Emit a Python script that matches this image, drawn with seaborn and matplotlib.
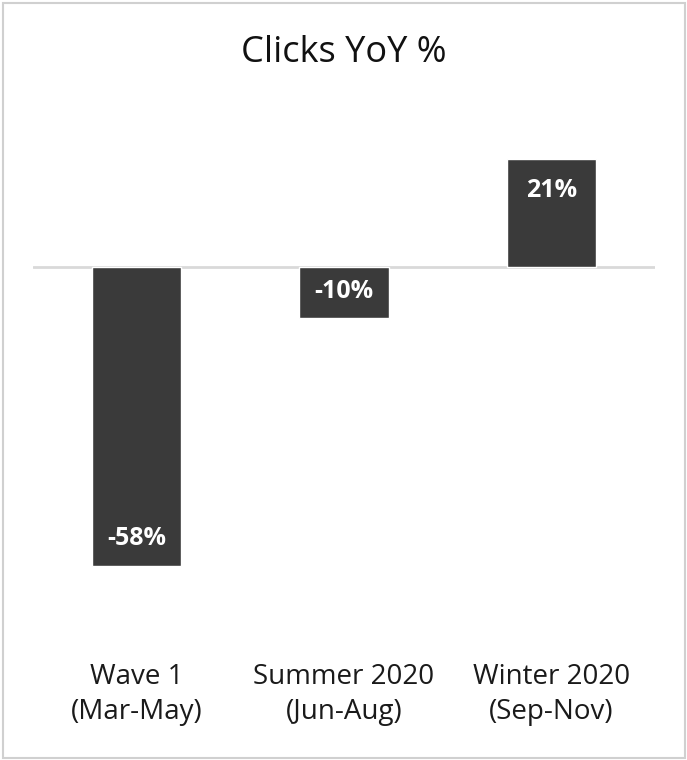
import matplotlib
matplotlib.use("Agg")
import matplotlib.pyplot as plt
from matplotlib.patches import Rectangle
import seaborn as sns
import pandas as pd

categories = ["Wave 1\n(Mar-May)", "Summer 2020\n(Jun-Aug)", "Winter 2020\n(Sep-Nov)"]
values = [-0.58, -0.10, 0.21]
labels = ["-58%", "-10%", "21%"]
title = "Clicks YoY %"

sns.set_theme(style="white")
plt.rcParams["font.family"] = ["Open Sans", "DejaVu Sans"]

W, H = 687, 760
fig = plt.figure(figsize=(W / 100, H / 100), dpi=100)
fig.patch.set_facecolor("white")

left, right, top, bottom = 33, 655, 100, 645
ax = fig.add_axes([left / W, 1 - bottom / H, (right - left) / W, (bottom - top) / H])

df = pd.DataFrame({"cat": categories, "val": values})
sns.barplot(data=df, x="cat", y="val", color="#3a3a3a", saturation=1,
            width=0.43, ax=ax, zorder=3)

ax.axhline(0, color="#d9d9d9", lw=2, zorder=2)
ax.set_xlim(-0.5, 2.5)
ax.set_ylim(-0.734, 0.324)
ax.set_yticks([])
ax.set_xlabel("")
ax.set_ylabel("")
for s in ax.spines.values():
    s.set_visible(False)
ax.tick_params(axis="x", length=0, pad=13)
for t in ax.get_xticklabels():
    t.set_fontsize(20)
    t.set_color("#1a1a1a")
    t.set_linespacing(1.35)

for i, (v, lab) in enumerate(zip(values, labels)):
    off = -23 if v > 0 else 19.5
    ax.annotate(lab, xy=(i, v), xytext=(0, off), textcoords="offset points",
                ha="center", va="center", color="white", fontsize=18,
                fontweight="bold", zorder=4)

fig.text(0.5, 1 - 53 / H, title, ha="center", va="center", fontsize=26,
         color="#111111")

fig.patches.append(Rectangle((2.5 / W, 2.5 / H), (W - 5) / W, (H - 5) / H,
                             transform=fig.transFigure, fill=False,
                             edgecolor="#d0d0d0", lw=1.5))

fig.savefig("out.png", dpi=100, facecolor="white")
